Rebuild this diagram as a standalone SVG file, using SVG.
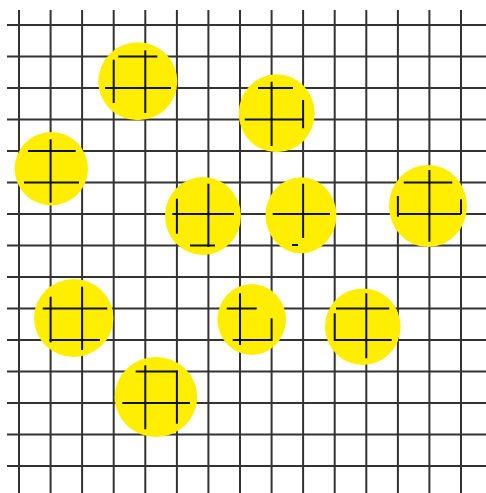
<svg xmlns="http://www.w3.org/2000/svg" width="486" height="493" viewBox="0 0 486 493">
<style>
.g line{stroke:#333;stroke-width:2}
.s line{stroke:#111;stroke-width:2}
.d{fill:#FFEE00}
</style>
<rect width="486" height="493" fill="#fff"/>
<g id="grid" class="g">
<line x1="7" y1="25" x2="486" y2="25"/>
<line x1="7" y1="56.5" x2="486" y2="56.5"/>
<line x1="7" y1="88" x2="486" y2="88"/>
<line x1="7" y1="119.5" x2="486" y2="119.5"/>
<line x1="7" y1="151" x2="486" y2="151"/>
<line x1="7" y1="182.5" x2="486" y2="182.5"/>
<line x1="7" y1="214" x2="486" y2="214"/>
<line x1="7" y1="245.5" x2="486" y2="245.5"/>
<line x1="7" y1="277" x2="486" y2="277"/>
<line x1="7" y1="308.5" x2="486" y2="308.5"/>
<line x1="7" y1="340" x2="486" y2="340"/>
<line x1="7" y1="371.5" x2="486" y2="371.5"/>
<line x1="7" y1="403" x2="486" y2="403"/>
<line x1="7" y1="434.5" x2="486" y2="434.5"/>
<line x1="7" y1="466" x2="486" y2="466"/>
<line x1="19" y1="10" x2="19" y2="493"/>
<line x1="50.6" y1="10" x2="50.6" y2="493"/>
<line x1="82.1" y1="10" x2="82.1" y2="493"/>
<line x1="113.7" y1="10" x2="113.7" y2="493"/>
<line x1="145.3" y1="10" x2="145.3" y2="493"/>
<line x1="176.9" y1="10" x2="176.9" y2="493"/>
<line x1="208.4" y1="10" x2="208.4" y2="493"/>
<line x1="240" y1="10" x2="240" y2="493"/>
<line x1="271.6" y1="10" x2="271.6" y2="493"/>
<line x1="303.1" y1="10" x2="303.1" y2="493"/>
<line x1="334.7" y1="10" x2="334.7" y2="493"/>
<line x1="366.3" y1="10" x2="366.3" y2="493"/>
<line x1="397.9" y1="10" x2="397.9" y2="493"/>
<line x1="429.4" y1="10" x2="429.4" y2="493"/>
<line x1="461" y1="10" x2="461" y2="493"/>
</g>
<g id="disc1" class="s">
<ellipse class="d" cx="137.8" cy="81.3" rx="39.5" ry="39"/>
<line x1="118.3" y1="56.5" x2="157.3" y2="56.5"/>
<line x1="105" y1="88" x2="171" y2="88"/>
<line x1="113.7" y1="59.7" x2="113.7" y2="103"/>
<line x1="145.3" y1="50.3" x2="145.3" y2="113"/>
</g>
<g id="disc2" class="s">
<ellipse class="d" cx="276.7" cy="113.3" rx="38" ry="39"/>
<line x1="258" y1="88" x2="293" y2="88"/>
<line x1="244.7" y1="119.5" x2="302.7" y2="119.5"/>
<line x1="271.6" y1="81.7" x2="271.6" y2="146"/>
<line x1="303.1" y1="100" x2="303.1" y2="128.3"/>
</g>
<g id="disc3" class="s">
<ellipse class="d" cx="51.3" cy="168.7" rx="36.7" ry="36.7"/>
<line x1="28" y1="151" x2="75.7" y2="151"/>
<line x1="24" y1="182.5" x2="79" y2="182.5"/>
<line x1="50.6" y1="139.3" x2="50.6" y2="202.7"/>
</g>
<g id="disc4" class="s">
<ellipse class="d" cx="203" cy="216" rx="38" ry="39"/>
<line x1="172.3" y1="214" x2="234" y2="214"/>
<line x1="190" y1="245.5" x2="215" y2="245.5"/>
<line x1="176.9" y1="198.7" x2="176.9" y2="233.7"/>
<line x1="208.4" y1="183.7" x2="208.4" y2="247"/>
</g>
<g id="disc5" class="s">
<ellipse class="d" cx="301" cy="215.3" rx="35.5" ry="38"/>
<line x1="272.7" y1="214" x2="330" y2="214"/>
<line x1="292" y1="245" x2="298" y2="245"/>
<line x1="303.1" y1="183.7" x2="303.1" y2="238"/>
</g>
<g id="disc6" class="s">
<ellipse class="d" cx="428" cy="206" rx="39" ry="41"/>
<line x1="403.7" y1="182.5" x2="452.3" y2="182.5"/>
<line x1="397" y1="214" x2="461" y2="214"/>
<line x1="397.9" y1="196" x2="397.9" y2="216.7"/>
<line x1="429.4" y1="170" x2="429.4" y2="241.7"/>
<line x1="461" y1="199.3" x2="461" y2="214"/>
</g>
<g id="disc7" class="s">
<ellipse class="d" cx="73.7" cy="318" rx="39.7" ry="39"/>
<line x1="42.7" y1="308.5" x2="107.3" y2="308.5"/>
<line x1="49.3" y1="340" x2="100" y2="340"/>
<line x1="50.6" y1="296.7" x2="50.6" y2="342.3"/>
<line x1="82.1" y1="286.7" x2="82.1" y2="350"/>
</g>
<g id="disc8" class="s">
<ellipse class="d" cx="251.7" cy="319.5" rx="34.3" ry="35.5"/>
<line x1="226.7" y1="308.5" x2="256.7" y2="308.5"/>
<line x1="232.7" y1="340" x2="271.6" y2="340"/>
<line x1="240" y1="293.3" x2="240" y2="345"/>
<line x1="271.6" y1="318.3" x2="271.6" y2="341"/>
</g>
<g id="disc9" class="s">
<ellipse class="d" cx="362.8" cy="326.7" rx="37.8" ry="38.3"/>
<line x1="336" y1="308.5" x2="389.3" y2="308.5"/>
<line x1="334" y1="340" x2="391.7" y2="340"/>
<line x1="334.7" y1="313.3" x2="334.7" y2="341"/>
<line x1="366.3" y1="293.3" x2="366.3" y2="358.3"/>
</g>
<g id="disc10" class="s">
<ellipse class="d" cx="156" cy="397" rx="41.3" ry="40"/>
<line x1="135.7" y1="371.5" x2="177.7" y2="371.5"/>
<line x1="122.3" y1="403" x2="190" y2="403"/>
<line x1="145.3" y1="365.3" x2="145.3" y2="429.3"/>
<line x1="176.9" y1="370.5" x2="176.9" y2="423.7"/>
</g>
</svg>
